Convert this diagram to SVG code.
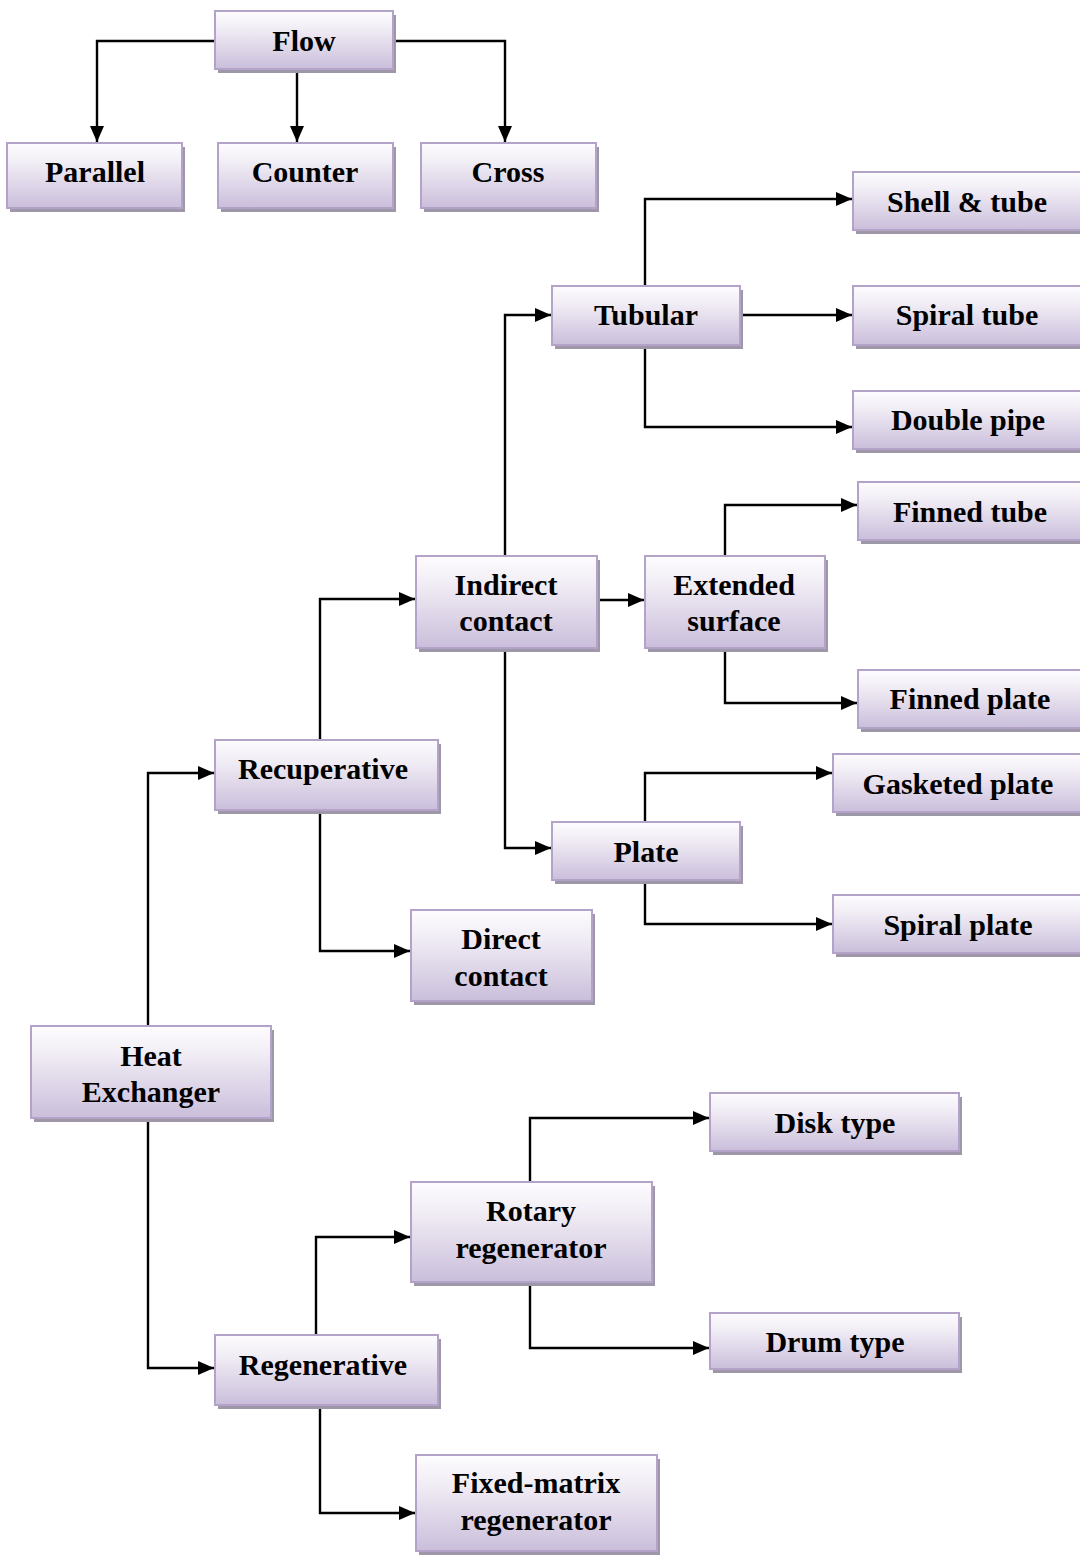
<svg xmlns="http://www.w3.org/2000/svg" width="1080" height="1555" viewBox="0 0 1080 1555">
<style>
.sh{fill:#9e97a8}
.bx{fill:url(#g);stroke:#b4a3c8;stroke-width:2}
.t{font-family:"Liberation Serif","Times New Roman",serif;font-weight:bold;font-size:30px;fill:#000;text-anchor:middle}
.c{fill:none;stroke:#000;stroke-width:2.4}
</style>
<defs>
<linearGradient id="g" x1="0" y1="0" x2="0" y2="1">
<stop offset="0" stop-color="#fdfcfe"/>
<stop offset="0.3" stop-color="#f1edf5"/>
<stop offset="1" stop-color="#cabedb"/>
</linearGradient>
<marker id="a" markerWidth="17" markerHeight="15" refX="16" refY="7.5" orient="auto" markerUnits="userSpaceOnUse">
<path d="M0,0.5 L16,7.5 L0,14.5 Z" fill="#000"/>
</marker>
</defs>
<rect width="1080" height="1555" fill="#fff"/>

<g id="connectors">
<path class="c" d="M215,41 H97 V142" marker-end="url(#a)"/>
<path class="c" d="M297,69 V142" marker-end="url(#a)"/>
<path class="c" d="M393,41 H505 V142" marker-end="url(#a)"/>
<path class="c" d="M645,286 V199 H852" marker-end="url(#a)"/>
<path class="c" d="M740,315 H852" marker-end="url(#a)"/>
<path class="c" d="M645,345 V427 H852" marker-end="url(#a)"/>
<path class="c" d="M505,556 V315 H551" marker-end="url(#a)"/>
<path class="c" d="M505,648 V848 H551" marker-end="url(#a)"/>
<path class="c" d="M597,600 H644" marker-end="url(#a)"/>
<path class="c" d="M725,556 V505 H857" marker-end="url(#a)"/>
<path class="c" d="M725,648 V703 H857" marker-end="url(#a)"/>
<path class="c" d="M645,822 V773 H832" marker-end="url(#a)"/>
<path class="c" d="M645,880 V924 H832" marker-end="url(#a)"/>
<path class="c" d="M320,740 V599 H415" marker-end="url(#a)"/>
<path class="c" d="M320,810 V951 H410" marker-end="url(#a)"/>
<path class="c" d="M148,1026 V773 H214" marker-end="url(#a)"/>
<path class="c" d="M148,1118 V1368 H214" marker-end="url(#a)"/>
<path class="c" d="M316,1335 V1237 H410" marker-end="url(#a)"/>
<path class="c" d="M320,1405 V1513 H415" marker-end="url(#a)"/>
<path class="c" d="M530,1182 V1118 H709" marker-end="url(#a)"/>
<path class="c" d="M530,1282 V1348 H709" marker-end="url(#a)"/>
</g>

<g id="flow"><rect class="sh" x="218" y="15" width="178" height="58"/><rect class="bx" x="215" y="11" width="178" height="58"/><text class="t" x="304" y="51">Flow</text></g>
<g id="parallel"><rect class="sh" x="10" y="147" width="175" height="65"/><rect class="bx" x="7" y="143" width="175" height="65"/><text class="t" x="95" y="182">Parallel</text></g>
<g id="counter"><rect class="sh" x="221" y="147" width="175" height="65"/><rect class="bx" x="218" y="143" width="175" height="65"/><text class="t" x="305" y="182">Counter</text></g>
<g id="cross"><rect class="sh" x="424" y="147" width="175" height="65"/><rect class="bx" x="421" y="143" width="175" height="65"/><text class="t" x="508" y="182">Cross</text></g>

<g id="shell-tube"><rect class="sh" x="856" y="176" width="230" height="58"/><rect class="bx" x="853" y="172" width="230" height="58"/><text class="t" x="967" y="212">Shell &amp; tube</text></g>
<g id="tubular"><rect class="sh" x="555" y="290" width="188" height="59"/><rect class="bx" x="552" y="286" width="188" height="59"/><text class="t" x="646" y="325">Tubular</text></g>
<g id="spiral-tube"><rect class="sh" x="856" y="290" width="230" height="59"/><rect class="bx" x="853" y="286" width="230" height="59"/><text class="t" x="967" y="325">Spiral tube</text></g>
<g id="double-pipe"><rect class="sh" x="856" y="395" width="230" height="58"/><rect class="bx" x="853" y="391" width="230" height="58"/><text class="t" x="968" y="430">Double pipe</text></g>

<g id="finned-tube"><rect class="sh" x="861" y="486" width="225" height="58"/><rect class="bx" x="858" y="482" width="225" height="58"/><text class="t" x="970" y="522">Finned tube</text></g>
<g id="indirect-contact"><rect class="sh" x="419" y="560" width="181" height="92"/><rect class="bx" x="416" y="556" width="181" height="92"/><text class="t" x="506" y="595">Indirect</text><text class="t" x="506" y="631">contact</text></g>
<g id="extended-surface"><rect class="sh" x="648" y="560" width="180" height="92"/><rect class="bx" x="645" y="556" width="180" height="92"/><text class="t" x="734" y="595">Extended</text><text class="t" x="734" y="631">surface</text></g>
<g id="finned-plate"><rect class="sh" x="861" y="674" width="225" height="58"/><rect class="bx" x="858" y="670" width="225" height="58"/><text class="t" x="970" y="709">Finned plate</text></g>

<g id="recuperative"><rect class="sh" x="218" y="744" width="223" height="70"/><rect class="bx" x="215" y="740" width="223" height="70"/><text class="t" x="323" y="779">Recuperative</text></g>
<g id="gasketed-plate"><rect class="sh" x="836" y="758" width="250" height="58"/><rect class="bx" x="833" y="754" width="250" height="58"/><text class="t" x="958" y="794">Gasketed plate</text></g>
<g id="plate"><rect class="sh" x="555" y="826" width="188" height="58"/><rect class="bx" x="552" y="822" width="188" height="58"/><text class="t" x="646" y="862">Plate</text></g>
<g id="spiral-plate"><rect class="sh" x="836" y="899" width="250" height="58"/><rect class="bx" x="833" y="895" width="250" height="58"/><text class="t" x="958" y="935">Spiral plate</text></g>
<g id="direct-contact"><rect class="sh" x="414" y="914" width="181" height="91"/><rect class="bx" x="411" y="910" width="181" height="91"/><text class="t" x="501" y="949">Direct</text><text class="t" x="501" y="986">contact</text></g>

<g id="heat-exchanger"><rect class="sh" x="34" y="1030" width="240" height="92"/><rect class="bx" x="31" y="1026" width="240" height="92"/><text class="t" x="151" y="1066">Heat</text><text class="t" x="151" y="1102">Exchanger</text></g>

<g id="disk-type"><rect class="sh" x="713" y="1097" width="249" height="58"/><rect class="bx" x="710" y="1093" width="249" height="58"/><text class="t" x="835" y="1133">Disk type</text></g>
<g id="rotary-regenerator"><rect class="sh" x="414" y="1186" width="241" height="100"/><rect class="bx" x="411" y="1182" width="241" height="100"/><text class="t" x="531" y="1221">Rotary</text><text class="t" x="531" y="1258">regenerator</text></g>
<g id="drum-type"><rect class="sh" x="713" y="1317" width="249" height="56"/><rect class="bx" x="710" y="1313" width="249" height="56"/><text class="t" x="835" y="1352">Drum type</text></g>
<g id="regenerative"><rect class="sh" x="218" y="1339" width="223" height="70"/><rect class="bx" x="215" y="1335" width="223" height="70"/><text class="t" x="323" y="1375">Regenerative</text></g>
<g id="fixed-matrix-regenerator"><rect class="sh" x="419" y="1459" width="241" height="96"/><rect class="bx" x="416" y="1455" width="241" height="96"/><text class="t" x="536" y="1493">Fixed-matrix</text><text class="t" x="536" y="1530">regenerator</text></g>
</svg>
